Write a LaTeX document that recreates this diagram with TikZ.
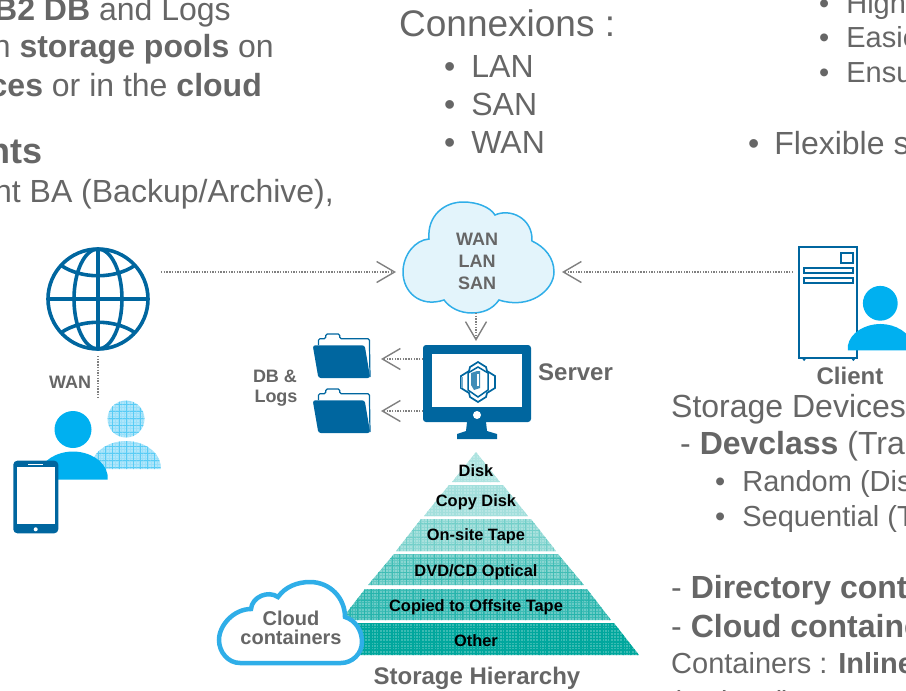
\documentclass[tikz,border=0pt]{standalone}
\usepackage{fontspec}
\setmainfont{Liberation Sans}
\usetikzlibrary{arrows.meta,patterns.meta}
\definecolor{txtgrey}{HTML}{666666}
\definecolor{linkgrey}{HTML}{808080}
\definecolor{iconblue}{HTML}{00669F}
\definecolor{usercyan}{HTML}{00B0F0}
\definecolor{cloudline}{HTML}{2FAEE8}
\definecolor{cloudfill}{HTML}{E3F4FB}
\definecolor{tierteal}{HTML}{00A79D}
\newcommand{\bodyfont}[1]{\fontsize{#1}{#1}\selectfont}
\tikzset{
  body/.style={anchor=base west, inner sep=0, text=txtgrey, font=\bodyfont{32}},
  bodyr/.style={anchor=base east, inner sep=0, text=txtgrey, font=\bodyfont{32}},
  small/.style={anchor=base west, inner sep=0, text=txtgrey, font=\bodyfont{29}},
  tag/.style={anchor=base, inner sep=0, text=txtgrey, font=\bodyfont{18}\bfseries},
  tierlab/.style={anchor=base, inner sep=0, text=black, font=\bodyfont{16.4}\bfseries},
  link/.style={linkgrey, line width=1.3pt, dash pattern=on 1.4pt off 1.3pt},
  barb/.style={-{Straight Barb[length=18pt,width=21pt,line width=1.4pt]}},
  gridx/.style={pattern={Lines[angle=0,distance=7pt,line width=.5pt]}, pattern color=#1},
  gridy/.style={pattern={Lines[angle=90,distance=7pt,line width=.5pt]}, pattern color=#1},
  stipple/.style={pattern={Dots[distance=3pt,radius=.55pt]}, pattern color=white},
  person/.pic={
    \fill[#1] (0,0) circle (18.5);
    \fill[#1] (-34.5,50) -- (-34.5,45) .. controls (-32,31) and (-16,22) .. (0,22)
      .. controls (16,22) and (32,31) .. (34.5,45) -- (34.5,50) -- cycle;
  },
  folder/.pic={
    \draw[iconblue, line width=1.2pt, rounded corners=1.5pt] (5.7,12) -- (5.7,5.7) -- (13,5.7) -- (13,1)
      -- (27,1) -- (27,5.7) -- (56.7,5.7) -- (57.3,44);
    \fill[iconblue, rounded corners=2.5pt] (0,12.3) -- (52,12.3) -- (57.5,45) -- (5.7,45) -- cycle;
  }
}
\begin{document}
\begin{tikzpicture}[x=1pt,y=-1pt]
\useasboundingbox (0,0) rectangle (906,691);

\node[bodyr] (left0) at (231,20){\textbf{B2 DB} and Logs};
\node[bodyr] (left1) at (274,57){n \textbf{storage pools} on};
\node[bodyr] (left2) at (262,96){\textbf{ces} or in the \textbf{cloud}};
\node[bodyr, font=\bodyfont{36}\bfseries] (left3) at (43,163){nts};
\node[bodyr] (left4) at (334,202){nt BA (Backup/Archive),};

\node[body, font=\bodyfont{37}] (conn0) at (399,36){Connexions :};
\node[body] (conn1) at (444,77){\textbullet\hspace{16pt}LAN};
\node[body] (conn2) at (444,115){\textbullet\hspace{16pt}SAN};
\node[body] (conn3) at (444,153){\textbullet\hspace{16pt}WAN};

\node[small] (right0) at (819,13){\textbullet\hspace{17pt}High};
\node[small] (right1) at (819,47){\textbullet\hspace{17pt}Easie};
\node[small] (right2) at (819,82){\textbullet\hspace{17pt}Ensu};
\node[body] (right3) at (748,154){\textbullet\hspace{15pt}Flexible s};

\node[body] (dev0) at (671,417){Storage Devices};
\node[body] (dev1) at (680,454){- \textbf{Devclass} (Trad};
\node[small] (dev2) at (715,491){\textbullet\hspace{17pt}Random (Dis};
\node[small] (dev3) at (715,526){\textbullet\hspace{17pt}Sequential (T};
\node[body] (dev4) at (671,598){- \textbf{Directory cont}};
\node[body] (dev5) at (671,637){- \textbf{Cloud containe}};
\node[small] (dev6) at (671,673){Containers : \textbf{Inline}};
\node[small] (dev7) at (671,711){(optional)};

\foreach \ya/\xa/\xb/\yb/\xc/\xd/\tint/\gc in {452/476/476/482/452/500/32/tierteal!32,485/449/503/516/424/528/36/tierteal!36,519/421/531/551/396/556/44/tierteal!55,554/394/558/585/368/584/60/tierteal!75,589/365/587/620/341/611/76/tierteal!85,623/338/614/655/313/639/100/tierteal}{
  \fill[tierteal!\tint] (\xa,\ya) -- (\xb,\ya) -- (\xd,\yb) -- (\xc,\yb) -- cycle;
  \fill[stipple] (\xa,\ya) -- (\xb,\ya) -- (\xd,\yb) -- (\xc,\yb) -- cycle;
  \fill[gridx=\gc] (\xa,\ya) -- (\xb,\ya) -- (\xd,\yb) -- (\xc,\yb) -- cycle;
  \fill[gridy=\gc] (\xa,\ya) -- (\xb,\ya) -- (\xd,\yb) -- (\xc,\yb) -- cycle;
}
\node[tierlab] (tier0) at (476,476){Disk};
\node[tierlab] (tier1) at (476,506){Copy Disk};
\node[tierlab] (tier2) at (476,540){On-site Tape};
\node[tierlab] (tier3) at (476,576){DVD/CD Optical};
\node[tierlab] (tier4) at (476,611){Copied to Offsite Tape};
\node[tierlab] (tier5) at (476,646){Other};
\node[tag, font=\bodyfont{24}\bfseries] (hier) at (477,684){Storage Hierarchy};

\draw[cloudline, line width=4.5pt, fill=white] (240,663) .. controls (228,663) and (219,652) .. (219,640)
  .. controls (219,625) and (234,609) .. (251,609) .. controls (252,597) and (268,590) .. (278,597)
  .. controls (285,587) and (297,582) .. (310,582) .. controls (330,582) and (345,598) .. (345,617)
  .. controls (355,620) and (362,630) .. (362,642) .. controls (362,654) and (352,663) .. (341,663) -- cycle;
\node[tag, font=\bodyfont{20}\bfseries] (cont0) at (291,625){Cloud};
\node[tag, font=\bodyfont{20}\bfseries] (cont1) at (291,644){containers};

\draw[cloudline, line width=1.5pt, fill=cloudfill] (429,239) .. controls (427,215) and (445,202) .. (463,202)
  .. controls (477,202) and (490,207) .. (495,215) .. controls (510,208) and (533,218) .. (532,241)
  .. controls (545,247) and (554,258) .. (554,272) .. controls (554,290) and (530,310) .. (499,300)
  .. controls (492,310) and (482,313) .. (472,313) .. controls (460,313) and (450,308) .. (444,300)
  .. controls (420,308) and (403,292) .. (403,272) .. controls (403,255) and (415,240) .. (429,239) -- cycle;
\node[tag] (net0) at (477,245){WAN};
\node[tag] (net1) at (477,267){LAN};
\node[tag] (net2) at (477,289){SAN};

\draw[iconblue, line width=3.6pt] (98,299) circle (50);
\draw[iconblue, line width=3.6pt] (98,299) ellipse (24 and 50);
\draw[iconblue, line width=3.6pt] (98,249) -- (98,349);
\draw[iconblue, line width=3.6pt] (48,299) -- (148,299);
\draw[iconblue, line width=3.6pt] (62,266) .. controls (82,279) and (114,279) .. (134,266);
\draw[iconblue, line width=3.6pt] (62,332) .. controls (82,319) and (114,319) .. (134,332);

\fill[iconblue, rounded corners=3pt] (423,345) rectangle (531,422);
\fill[white] (432,354) rectangle (522,407);
\fill[white] (477,415) circle (4);
\fill[iconblue] (467,422) -- (486,422) -- (487,431) -- (497,434) -- (497,439) -- (457,439) -- (457,434) -- (466,431) -- cycle;
\draw[iconblue, line width=1.7pt] (478,362) -- (486,367) -- (487,371) -- (495,376) -- (495,388) -- (487,393) -- (486,397) -- (478,402)
  -- (470,397) -- (469,393) -- (461,388) -- (461,376) -- (469,371) -- (470,367) -- cycle;
\draw[iconblue!55, line width=2pt] (462,377) -- (462,388);
\fill[iconblue!75] (471,373) -- (477,371) -- (480,371) -- (480,388) -- (474,390) -- (471,385) -- cycle;
\fill[white] (477,374) rectangle (478.5,386);
\draw[iconblue, line width=1.5pt] (468,373) -- (468,390) -- (478,397) -- (488,390) -- (488,373) -- (478,367) -- cycle;

\pic at (312.7,333) {folder};
\pic at (312.7,388) {folder};

\node[tag] (dblog0) at (275,382){DB \&};
\node[tag] (dblog1) at (276,402){Logs};
\node[tag, font=\bodyfont{24}\bfseries, anchor=base west] (srv) at (538,380){Server};
\node[tag] (wanlab) at (70,388){WAN};

\pic at (126,419) {person={usercyan!40}};
\pic at (126,419) {person={stipple}};
\pic at (126,419) {person={gridx=usercyan!65}};
\pic at (126,419) {person={gridy=usercyan!65}};
\pic at (73,429.5) {person=usercyan};
\fill[iconblue, rounded corners=4pt] (13.3,460.7) rectangle (58.3,533.3);
\fill[white] (16.7,467.3) rectangle (55,524);
\fill[white] (35.7,529.3) circle (2);
\draw[white, line width=1pt] (28.3,464.3) -- (43.3,464.3);

\draw[iconblue, line width=1.7pt] (799.3,247.3) rectangle (857.3,358.3);
\draw[iconblue, line width=1.7pt] (841,252.7) rectangle (853.3,263.3);
\draw[iconblue, line width=1.7pt] (804,268.3) rectangle (853.3,273.3);
\draw[iconblue, line width=1.7pt] (804,277.7) rectangle (853.3,282.7);
\fill[iconblue] (804,359.5) circle (1.5);
\fill[iconblue] (853.3,359.5) circle (1.5);
\pic[scale=.94] at (880.3,303.3) {person=usercyan};
\node[tag, font=\bodyfont{24}\bfseries] (cli) at (850,384){Client};

\coordinate (globeout) at (161,272);
\coordinate (netin0) at (396,272);
\coordinate (cliout) at (793,272);
\coordinate (netin1) at (562,272);
\coordinate (netout) at (476,313);
\coordinate (srvin) at (476,341);
\coordinate (srvout0) at (423,359);
\coordinate (fold0) at (381,359);
\coordinate (srvout1) at (423,411);
\coordinate (fold1) at (381,411);
\coordinate (globedown) at (98,356);
\coordinate (usertop) at (98,398);
\draw[link, barb](globeout) -- (netin0);
\draw[link, barb](cliout) -- (netin1);
\draw[link, barb](netout) -- (srvin);
\draw[link, barb](srvout0) -- (fold0);
\draw[link, barb](srvout1) -- (fold1);
\draw[link](globedown) -- (usertop);
\end{tikzpicture}
\end{document}
